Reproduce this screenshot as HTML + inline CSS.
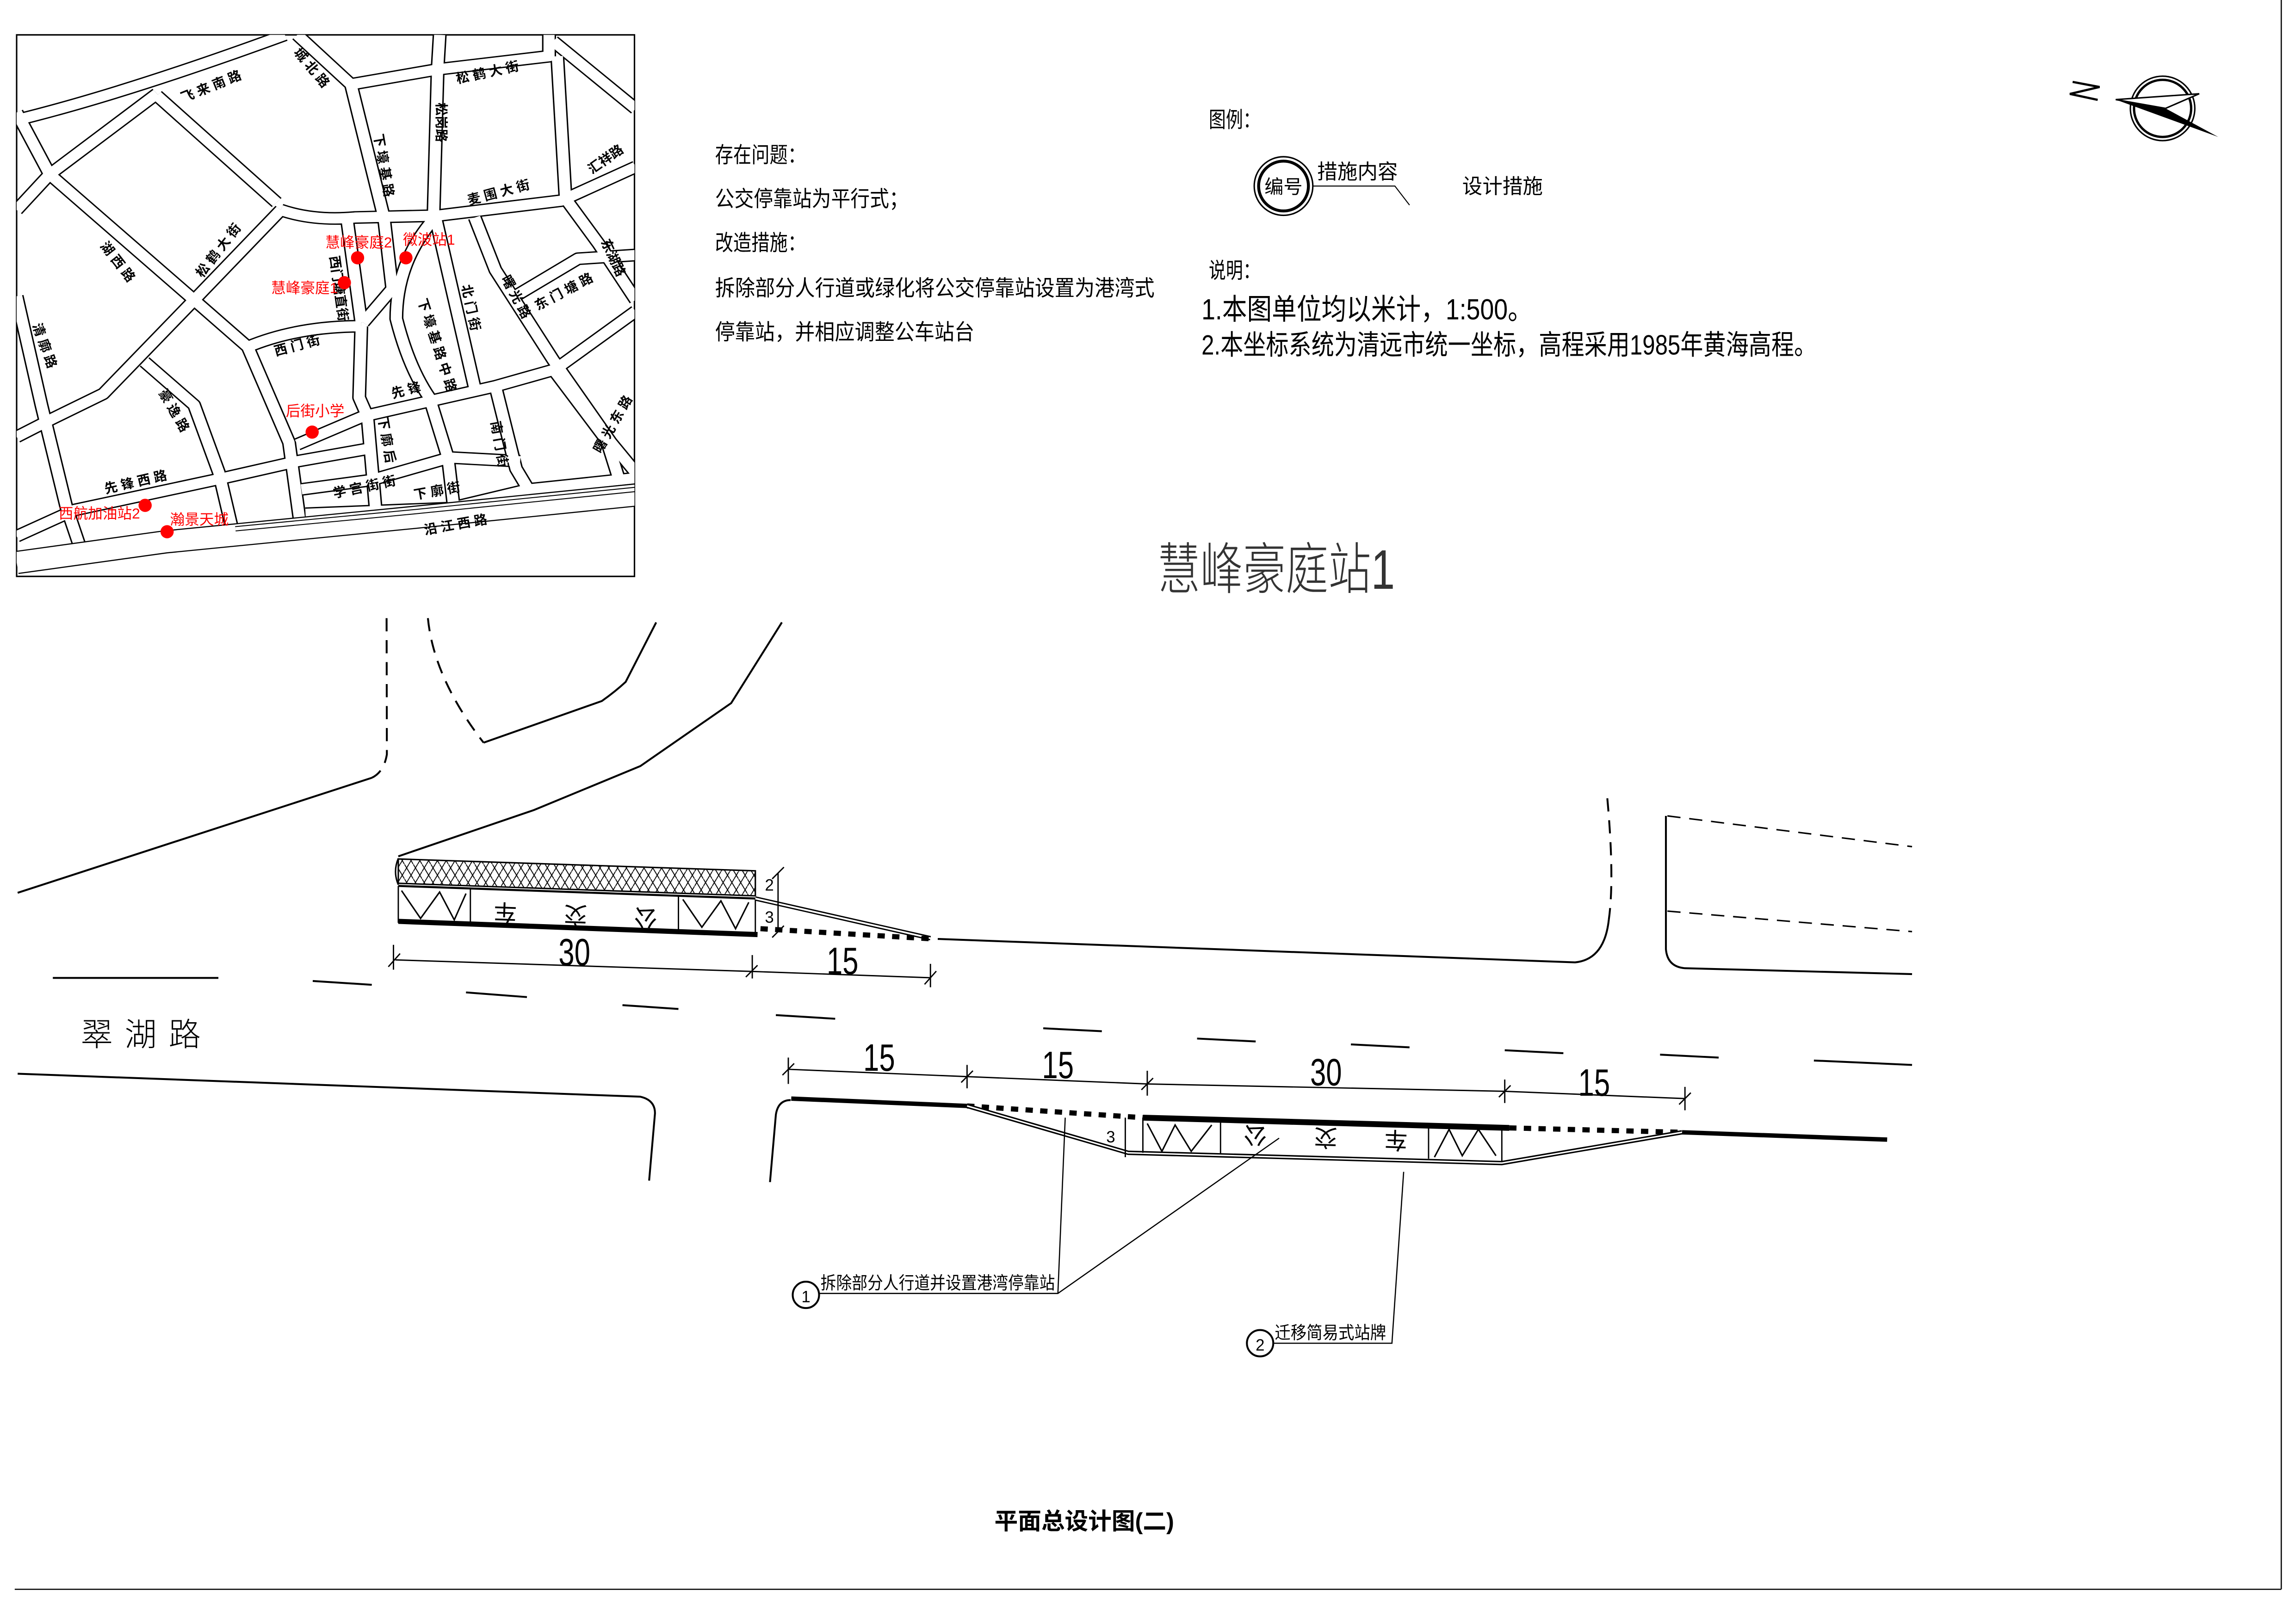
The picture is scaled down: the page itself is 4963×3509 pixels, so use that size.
<!DOCTYPE html>
<html><head><meta charset="utf-8"><style>
html,body{margin:0;padding:0;background:#fff}
svg{display:block}
text{font-family:"Liberation Sans","Noto Sans CJK SC",sans-serif}
</style></head><body>
<svg width="4963" height="3509" viewBox="0 0 1567 1108" xmlns="http://www.w3.org/2000/svg">
<defs>
<pattern id="hat" width="6" height="10" patternUnits="userSpaceOnUse">
<path d="M0,0 L6,10 M3,0 L0,5 M6,5 L3,10" stroke="#000" stroke-width="0.6" fill="none"/>
</pattern>
</defs>
<rect width="1567" height="1108" fill="#fff"/>
<line x1="1557" y1="0" x2="1557" y2="1085" stroke="#000" stroke-width="0.8"/>
<line x1="10" y1="1085" x2="1557" y2="1085" stroke="#000" stroke-width="0.8"/>

<rect x="11.3" y="23.8" width="421.7" height="369.7" fill="#fff" stroke="#000" stroke-width="1"/>
<svg x="11.3" y="23.8" width="421.7" height="369.7" viewBox="40 93 1497 1444" preserveAspectRatio="none">
<g fill="none" stroke-linejoin="round" stroke-linecap="butt">
<g id="rd">
<path d="M40,320 Q300,250 690,93 M40,300 L120,465 L40,560 M120,465 L380,250 M120,465 L470,800 L600,925 M380,255 L670,540 M470,800 L680,560 M680,560 Q760,590 860,580 L1060,575 L1360,535 L1540,445 M720,93 L850,225 M850,225 L1060,185 L1330,150 L1330,93 M1340,110 L1540,290 M850,225 L930,580 M1065,93 L1060,185 L1050,580 M1350,150 L1370,530 M1370,530 L1450,650 L1540,800 M1055,580 L1150,1035 M1150,580 L1200,720 L1340,960 L1480,1180 L1540,1260 M1240,795 L1400,690 L1540,680 M1050,585 Q960,700 960,850 Q990,980 1040,1060 M840,580 L875,860 M600,925 Q720,870 875,870 M875,870 L870,1060 L890,1110 M930,580 L950,770 L880,860 M470,800 L250,1050 L120,1120 L40,1165 M40,790 L100,1080 L160,1350 L200,1480 M350,965 L470,1080 L530,1260 L560,1400 M600,925 L700,1180 L730,1420 M720,1185 L880,1110 L1040,1070 L1200,1030 L1345,985 L1540,830 M40,1430 L180,1360 L540,1275 L720,1230 L900,1195 M730,1305 L900,1280 L1090,1220 L1260,1230 M740,1370 L1090,1355 L1280,1305 L1540,1275 M1040,1060 L1085,1220 L1100,1360 M890,1110 L910,1360 M1200,1030 L1250,1250 L1280,1305 M1340,985 L1470,1175 L1500,1280"/>
</g>
<use href="#rd" stroke="#000" stroke-width="34"/>
<use href="#rd" stroke="#fff" stroke-width="27"/>
<path d="M40,1500 L400,1445 L1000,1380 L1540,1320" stroke="#000" stroke-width="62"/>
<path d="M40,1500 L400,1445 L1000,1380 L1540,1320" stroke="#fff" stroke-width="56"/>
<path d="M570,1410 L1000,1365 L1540,1305" stroke="#000" stroke-width="14"/>
<path d="M570,1410 L1000,1365 L1540,1305" stroke="#fff" stroke-width="9"/>
</g>
</svg>
<g font-size="9" font-weight="bold" fill="#000">
<text transform="translate(125,70) rotate(-22)">飞 来 南 路</text>
<text transform="translate(200,36) rotate(50)">城 北 路</text>
<text transform="translate(312,57) rotate(-12)">松 鹤 大 街</text>
<text transform="translate(298,70) rotate(90)">松岗路</text>
<text transform="translate(255,92) rotate(80)">下 壕 基 路</text>
<text transform="translate(320,140) rotate(-15)">麦 围 大 街</text>
<text transform="translate(404,119) rotate(-35)">汇祥路</text>
<text transform="translate(138,190) rotate(-52)">松 鹤 大 街</text>
<text transform="translate(68,168) rotate(52)">湖 西 路</text>
<text transform="translate(410,165) rotate(65)">东湖路</text>
<text transform="translate(225,175) rotate(82)">西门塘直街</text>
<text transform="translate(315,195) rotate(78)">北 门 街</text>
<text transform="translate(342,190) rotate(62)">曙 光 路</text>
<text transform="translate(367,212) rotate(-28)">东 门 塘 路</text>
<text transform="translate(285,205) rotate(72)">下 壕 基 路 中 路</text>
<text transform="translate(22,222) rotate(70)">清 廓 路</text>
<text transform="translate(188,243) rotate(-15)">西 门 街</text>
<text transform="translate(108,268) rotate(60)">豪 逸 路</text>
<text transform="translate(268,272) rotate(-15)">先 锋</text>
<text transform="translate(335,288) rotate(80)">南 门 街</text>
<text transform="translate(410,310) rotate(-60)">曙 光 东 路</text>
<text transform="translate(258,285) rotate(80)">下 廓 后</text>
<text transform="translate(72,337) rotate(-13)">先 锋 西 路</text>
<text transform="translate(228,340) rotate(-12)">学 宫 街 街</text>
<text transform="translate(283,341) rotate(-10)">下 廓 街</text>
<text transform="translate(290,365) rotate(-10)">沿 江 西 路</text>
</g>
<g fill="#f00" font-size="10">
<text x="222" y="169">慧峰豪庭2</text>
<text x="275" y="167">微波站1</text>
<text x="185" y="200">慧峰豪庭1</text>
<text x="195" y="284">后街小学</text>
<text x="40" y="354">西航加油站2</text>
<text x="116" y="358">瀚景天城</text>
<circle cx="244" cy="176" r="4.5"/><circle cx="277" cy="176" r="4.5"/><circle cx="235" cy="193" r="4.5"/>
<circle cx="213" cy="295" r="4.5"/><circle cx="99" cy="345" r="4.5"/><circle cx="114" cy="363" r="4.5"/>
</g>

<g font-size="15" fill="#000">
<text x="488" y="111" textLength="62" lengthAdjust="spacingAndGlyphs">存在问题：</text>
<text x="488" y="141" textLength="132" lengthAdjust="spacingAndGlyphs">公交停靠站为平行式；</text>
<text x="488" y="171" textLength="62" lengthAdjust="spacingAndGlyphs">改造措施：</text>
<text x="488" y="202" textLength="300" lengthAdjust="spacingAndGlyphs">拆除部分人行道或绿化将公交停靠站设置为港湾式</text>
<text x="488" y="232" textLength="177" lengthAdjust="spacingAndGlyphs">停靠站，并相应调整公车站台</text>
<text x="825" y="87" textLength="35" lengthAdjust="spacingAndGlyphs">图例：</text>
<text x="825" y="190" textLength="35" lengthAdjust="spacingAndGlyphs">说明：</text>
<text x="820" y="218" font-size="20" textLength="226" lengthAdjust="spacingAndGlyphs">1.本图单位均以米计，1:500。</text>
<text x="820" y="242" font-size="19" textLength="420" lengthAdjust="spacingAndGlyphs">2.本坐标系统为清远市统一坐标，高程采用1985年黄海高程。</text>
<text x="998" y="132" font-size="14" textLength="55" lengthAdjust="spacingAndGlyphs">设计措施</text>
<text x="899" y="122" font-size="14" textLength="55" lengthAdjust="spacingAndGlyphs">措施内容</text>
</g>
<circle cx="876" cy="127" r="20" fill="none" stroke="#000" stroke-width="1"/>
<circle cx="876" cy="127" r="17" fill="none" stroke="#000" stroke-width="2"/>
<text x="876" y="132" font-size="13" text-anchor="middle">编号</text>
<path d="M896,127 L952,127 L962,140" fill="none" stroke="#000" stroke-width="0.7"/>

<circle cx="1476" cy="74" r="22" fill="none" stroke="#000" stroke-width="1"/>
<circle cx="1476" cy="74" r="19.5" fill="none" stroke="#000" stroke-width="1.6"/>
<path d="M1444,68 L1501,64 L1478,74 Z" fill="#fff" stroke="#000" stroke-width="1"/>
<path d="M1444,68 L1478,74 L1514,93.5 Z" fill="#000"/>
<path d="M1414.6,55.9 L1433,59.4 L1412.7,64.1 L1431.7,68.2" fill="none" stroke="#000" stroke-width="1.5"/>

<text x="790" y="402" font-size="38" fill="#333" font-weight="300" textLength="162" lengthAdjust="spacingAndGlyphs">慧峰豪庭站1</text>

<g fill="none" stroke="#000" stroke-width="1.3">
<path d="M263.8,422 L264,515 Q262,527 253.7,531" stroke-dasharray="9,6"/>
<path d="M253.7,531 L12,609.5"/>
<path d="M292,422 Q296,463 330,507" stroke-dasharray="9,6"/>
<path d="M330,507 L410.7,478.6 Q420,472 427,465.5 L447.8,424.9"/>
<path d="M533.6,424.9 L499,480 L437,523 L364.4,553 L271.8,584.6"/>
<path d="M1097,545 Q1102,600 1098,628" stroke-dasharray="9,6"/>
<path d="M1098,628 Q1095,655 1075,657 L640,641"/>
<path d="M1138,557 L1305,578 M1138,622 L1305,636" stroke-dasharray="9,6" stroke-width="1"/>
<path d="M1137,557 L1137,648 Q1138,660 1150,661 L1305,665"/>
<path d="M36,667.6 L149,667.6"/>
<path d="M12,733 L437,748.7 Q447,751 447,760 L443,806"/>
<path d="M525.5,807 L529.5,761 Q531,751 539.6,751"/>
</g>
<g stroke="#000" stroke-width="1.3">
<line x1="213.4" y1="669.7" x2="253.7" y2="672.3"/>
<line x1="318" y1="677.5" x2="359.6" y2="680.7"/>
<line x1="424.8" y1="686.2" x2="463" y2="688.8"/>
<line x1="529.5" y1="693" x2="570" y2="695.5"/>
<line x1="712" y1="702" x2="752" y2="704"/>
<line x1="817" y1="709" x2="857" y2="711"/>
<line x1="922" y1="713" x2="962" y2="715"/>
<line x1="1027" y1="717" x2="1067" y2="719"/>
<line x1="1133" y1="720" x2="1173" y2="722"/>
<line x1="1238" y1="724" x2="1305" y2="727"/>
</g>
<text x="55" y="714" font-size="22" letter-spacing="8" font-weight="300">翠湖路</text>

<path d="M271.8,586.4 L515.5,594.5 L515.5,611.6 L271.8,603 Z" fill="url(#hat)" stroke="#000" stroke-width="1"/>
<path d="M271.8,586 Q268,595 271.8,604" fill="none" stroke="#000" stroke-width="1"/>
<path d="M271.8,604.8 L515.5,613.4" stroke="#000" stroke-width="1.4"/>
<path d="M271.8,604.8 L271.8,630 M321,606.5 L321,631 M463,611.5 L463,636 M515.5,613.4 L515.5,638" stroke="#000" stroke-width="0.9"/>
<path d="M271.8,629 L517,638" stroke="#000" stroke-width="3.5"/>
<path d="M274,608 L287,627 L300,609 L310,628 L318,610" fill="none" stroke="#000" stroke-width="1"/>
<path d="M466,614 L479,633 L492,615 L502,634 L511,616" fill="none" stroke="#000" stroke-width="1"/>
<text transform="translate(393,619) rotate(182)" font-size="16" text-anchor="middle">公　　交　　车</text>
<path d="M515.5,613.4 L635,640.5" stroke="#000" stroke-width="3" fill="none"/>
<path d="M515.5,613.4 L635,640.5" stroke="#fff" stroke-width="1.2" fill="none"/>
<path d="M519,634 L637,641" stroke="#000" stroke-width="3.5" stroke-dasharray="5,5"/>
<g stroke="#000" stroke-width="0.9" fill="none">
<path d="M269.8,655.3 L513.4,663.2 L635,667.5"/>
<path d="M268.5,645 L268.5,662 M513.4,652 L513.4,668 M635,658 L635,674 M531,596 L531,636"/>
<path d="M265,660 L273,651 M509,667 L517,659 M631,672 L639,663 M527,600 L535,592 M527,640 L535,632"/>
</g>
<text font-size="26" text-anchor="middle" font-weight="300" transform="translate(392,659) scale(0.75,1)">30</text>
<text font-size="26" text-anchor="middle" font-weight="300" transform="translate(575,665) scale(0.75,1)">15</text>
<text x="522" y="608" font-size="11">2</text>
<text x="522" y="630" font-size="11">3</text>

<g fill="none" stroke="#000">
<path d="M540,750 L660,755" stroke-width="3"/>
<path d="M540,752.5 L660,757.5" stroke="#fff" stroke-width="1"/>
<path d="M660,755 L780,763" stroke-width="3.5" stroke-dasharray="5,5"/>
<path d="M780,763 L1030,770" stroke-width="4"/>
<path d="M1030,770 L1148,773" stroke-width="3.5" stroke-dasharray="5,5"/>
<path d="M1148,773 L1288,778" stroke-width="3"/>
<path d="M1148,775.5 L1288,780.5" stroke="#fff" stroke-width="1"/>
<path d="M660,755 L770,787 L1025,794 L1148,773" stroke-width="3"/>
<path d="M660,755 L770,787 L1025,794 L1148,773" stroke="#fff" stroke-width="1"/>
<path d="M780,763 L780,787 M833,764 L833,788 M975,768 L975,791 M1025,770 L1025,793" stroke-width="0.9"/>
<path d="M783,767 L793,786 L802,768 L813,786 L827,768" stroke-width="1"/>
<path d="M979,790 L989,771 L998,789 L1009,771 L1021,789" stroke-width="1"/>
</g>
<text transform="translate(905,771) rotate(182)" font-size="16" text-anchor="middle">车　　交　　公</text>
<g stroke="#000" stroke-width="0.9" fill="none">
<path d="M538,730 L660,735 L783,740 L1027,745 L1150,750"/>
<path d="M538,722 L538,740 M660,727 L660,743 M783,731 L783,748 M1027,737 L1027,753 M1150,742 L1150,758 M768,763 L768,790"/>
<path d="M534,734 L542,726 M656,739 L664,731 M779,744 L787,736 M1023,749 L1031,741 M1146,754 L1154,746"/>
</g>
<g font-size="26" font-weight="300" text-anchor="middle">
<text transform="translate(600,731) scale(0.75,1)">15</text>
<text transform="translate(722,736) scale(0.75,1)">15</text>
<text transform="translate(905,741) scale(0.75,1)">30</text>
<text transform="translate(1088,748) scale(0.75,1)">15</text>
</g>
<text x="755" y="780" font-size="11">3</text>
<g fill="none" stroke="#000" stroke-width="0.8">
<path d="M559,883 L722,883 L873,777 M722,883 L727,763"/>
<path d="M869,917 L950,917 L958,800"/>
</g>
<circle cx="550" cy="884" r="9" fill="none" stroke="#000" stroke-width="1.3"/>
<text x="550" y="889" font-size="11" text-anchor="middle">1</text>
<text x="560" y="880" font-size="12" textLength="160" lengthAdjust="spacingAndGlyphs">拆除部分人行道并设置港湾停靠站</text>
<circle cx="860" cy="917" r="9" fill="none" stroke="#000" stroke-width="1.3"/>
<text x="860" y="922" font-size="11" text-anchor="middle">2</text>
<text x="870" y="914" font-size="12" textLength="76" lengthAdjust="spacingAndGlyphs">迁移简易式站牌</text>

<text x="740" y="1044" font-size="16" font-weight="bold" text-anchor="middle">平面总设计图(二)</text>
</svg>
</body></html>
